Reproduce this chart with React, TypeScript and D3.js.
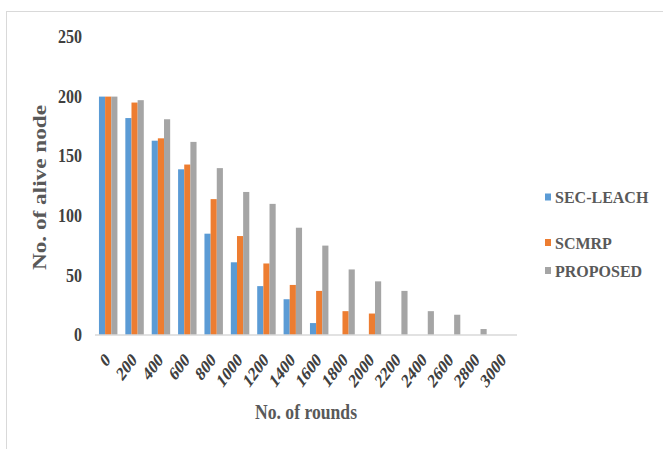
import React from "react";
import * as d3 from "d3";

const rounds = ["0", "200", "400", "600", "800", "1000", "1200", "1400", "1600", "1800", "2000", "2200", "2400", "2600", "2800", "3000"];
const seriesNames = ["SEC-LEACH", "SCMRP", "PROPOSED"];
const secLeach = [200, 182, 163, 139, 85, 61, 41, 30, 10, 0, 0, 0, 0, 0, 0, 0];
const scmrp = [200, 195, 165, 143, 114, 83, 60, 42, 37, 20, 18, 0, 0, 0, 0, 0];
const proposed = [200, 197, 181, 162, 140, 120, 110, 90, 75, 55, 45, 37, 20, 17, 5, 0];
const colors = ["#5B9BD5", "#ED7D31", "#A5A5A5"];
const yTicks = [0, 50, 100, 150, 200, 250];

const W = 663;
const H = 449;
const FONT = "Liberation Serif, DejaVu Serif, serif";

export default function App() {
  const values = [secLeach, scmrp, proposed];
  const x = d3.scaleBand<string>().domain(rounds).range([95, 517]).paddingInner(0.3).paddingOuter(0.15);
  const xs = d3.scaleBand<string>().domain(seriesNames).range([0, x.bandwidth()]);
  const y = d3.scaleLinear().domain([0, 250]).range([335, 37]);

  const legendY = [197.5, 243, 271];
  const textStyle = { fontFamily: FONT, fontWeight: 700 };

  return (
    <svg
      width={W}
      height={H}
      style={{ position: "absolute", left: 0, top: 0, background: "#fff", fontFamily: FONT }}
    >
      <rect x={6.5} y={11.5} width={800} height={600} fill="none" stroke="#d9d9d9" strokeWidth={1} />

      {/* bars */}
      {rounds.map((r, i) => (
        <g key={r} transform={`translate(${x(r)},0)`}>
          {seriesNames.map((s, k) => {
            const v = values[k][i];
            if (!v) return null;
            return (
              <rect
                key={s}
                x={xs(s)}
                y={y(v)}
                width={xs.bandwidth()}
                height={y(0) - y(v)}
                fill={colors[k]}
              />
            );
          })}
        </g>
      ))}

      {/* baseline */}
      <line x1={95} x2={517} y1={y(0)} y2={y(0)} stroke="#d9d9d9" strokeWidth={1.5} />

      {/* y tick labels */}
      {yTicks.map((t) => (
        <text
          key={t}
          x={0}
          y={0}
          dy="0.35em"
          textAnchor="end"
          fontSize={16}
          fill="#404040"
          style={textStyle}
          transform={`translate(82,${y(t)}) scale(1,1.12)`}
        >
          {t}
        </text>
      ))}

      {/* x tick labels, slanted */}
      {rounds.map((r) => {
        const cx = (x(r) as number) + x.bandwidth() / 2 + 3;
        const cy = 361;
        return (
          <text
            key={r}
            x={0}
            y={0}
            textAnchor="end"
            fontSize={14.5}
            fill="#404040"
            style={textStyle}
            transform={`translate(${cx},${cy}) scale(1,1.35) rotate(-45)`}
          >
            {r}
          </text>
        );
      })}

      {/* axis titles */}
      <text
        x={0}
        y={0}
        textAnchor="middle"
        fontSize={17.5}
        fill="#595959"
        style={textStyle}
        transform="translate(306,419) scale(1,1.2)"
        textLength={102}
        lengthAdjust="spacingAndGlyphs"
      >
        No. of rounds
      </text>
      <text
        x={0}
        y={0}
        textAnchor="middle"
        fontSize={18}
        fill="#595959"
        style={textStyle}
        transform={`translate(46,187.5) rotate(-90)`}
        textLength={165}
        lengthAdjust="spacingAndGlyphs"
      >
        No. of alive node
      </text>

      {/* legend */}
      {seriesNames.map((s, k) => (
        <g key={s}>
          <rect x={545} y={legendY[k] - 4} width={6} height={7} fill={colors[k]} />
          <text x={555} y={legendY[k]} dy="0.35em" fontSize={16} fill="#595959" style={textStyle}>
            {s}
          </text>
        </g>
      ))}
    </svg>
  );
}
